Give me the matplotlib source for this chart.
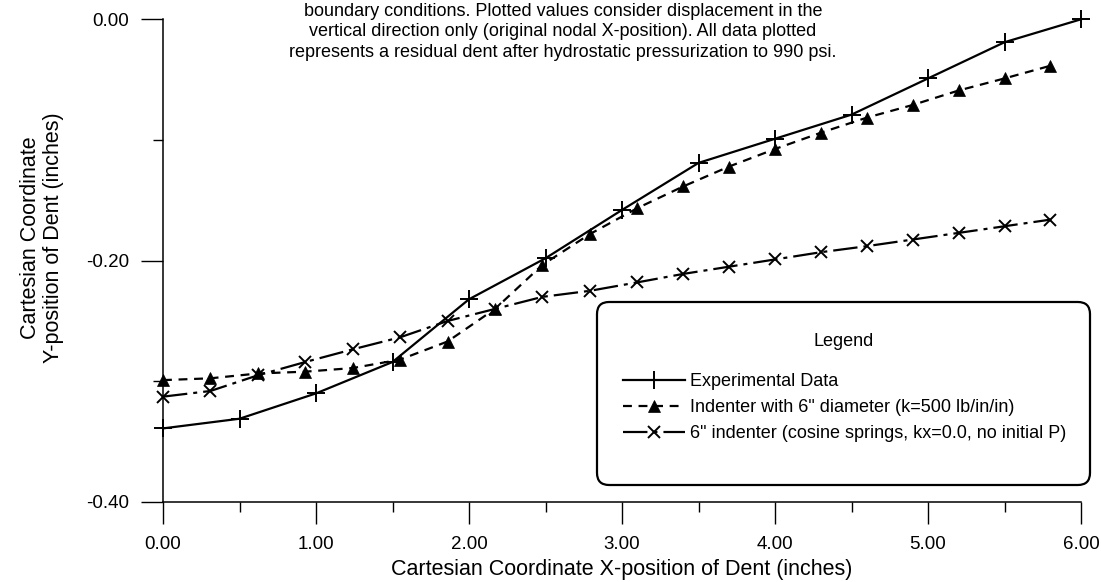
"""
Residual dent profile: experimental data vs. two FE indenter models.
"""

import matplotlib
matplotlib.use("Agg")
import matplotlib.pyplot as plt
from matplotlib.patches import FancyBboxPatch
from matplotlib.lines import Line2D

plt.rcParams["font.family"] = ["Liberation Sans", "DejaVu Sans"]

# Experimental data (solid, + markers)
exp_x = [0.0, 0.5, 1.0, 1.5, 2.0, 2.5, 3.0, 3.5, 4.0, 4.5, 5.0, 5.5, 6.0]
exp_y = [-0.339, -0.331, -0.310, -0.284, -0.232, -0.198, -0.158,
         -0.119, -0.099, -0.079, -0.049, -0.019, 0.0]

# Indenter with 6" diameter (dashed, triangles)
ind_x = [0.0, 0.31, 0.62, 0.93, 1.24, 1.55, 1.86, 2.17, 2.48, 2.79,
         3.10, 3.40, 3.70, 4.00, 4.30, 4.60, 4.90, 5.20, 5.50, 5.80]
ind_y = [-0.299, -0.2975, -0.2935, -0.292, -0.289, -0.282, -0.267, -0.240,
         -0.2035, -0.178, -0.1565, -0.1385, -0.122, -0.1075, -0.094,
         -0.0815, -0.071, -0.059, -0.049, -0.0385]

# 6" indenter, cosine springs (dash-dot, x markers)
cos_x = ind_x
cos_y = [-0.3127, -0.308, -0.295, -0.284, -0.2735, -0.2635, -0.250, -0.240,
         -0.230, -0.225, -0.218, -0.211, -0.205, -0.199, -0.193, -0.188,
         -0.1825, -0.177, -0.1715, -0.166]

labels = [
    "Experimental Data",
    'Indenter with 6" diameter (k=500 lb/in/in)',
    '6" indenter (cosine springs, kx=0.0, no initial P)',
]

note = ("boundary conditions. Plotted values consider displacement in the\n"
        "vertical direction only (original nodal X-position). All data plotted\n"
        "represents a residual dent after hydrostatic pressurization to 990 psi.")

W, H = 1101, 582
fig = plt.figure(figsize=(W / 100, H / 100), dpi=100)
ax = fig.add_axes([163 / W, 1 - 502 / H, (1081 - 163) / W, (502 - 19.3) / H])

styles = [
    dict(ls="-", marker="+", ms=13, mew=1.4),
    dict(ls=(0, (4, 3)), marker="^", ms=8, mew=0.5),
    dict(ls=(0, (11, 2.7, 1.8, 2.7)), marker="x", ms=8, mew=1.4),
]
series = [(exp_x, exp_y), (ind_x, ind_y), (cos_x, cos_y)]
for (xs, ys), st in zip(series, styles):
    ax.plot(xs, ys, color="k", lw=1.6, clip_on=False, **st)

ax.set_xlim(0, 6)
ax.set_ylim(-0.4, 0)
ax.set_xticks(range(7))
ax.set_xticklabels([f"{v:.2f}" for v in range(7)])
ax.set_xticks([0.5, 1.5, 2.5, 3.5, 4.5, 5.5], minor=True)
ax.set_yticks([-0.4, -0.2, 0.0])
ax.set_yticklabels(["-0.40", "-0.20", "0.00"])
ax.set_yticks([-0.3, -0.1], minor=True)
ax.tick_params(which="major", direction="out", length=15.5, width=1,
               labelsize=13.5, pad=9)
ax.tick_params(which="minor", direction="out", length=7, width=1)
for s in ["top", "right"]:
    ax.spines[s].set_visible(False)
for s in ["left", "bottom"]:
    ax.spines[s].set_linewidth(1.1)

fig.text(622 / W, 1 - 569 / H, "Cartesian Coordinate X-position of Dent (inches)",
         ha="center", va="center", fontsize=15.5)
fig.text(42 / W, 1 - 238 / H, "Cartesian Coordinate\nY-position of Dent (inches)",
         ha="center", va="center", rotation=90, fontsize=15.5, linespacing=1.1)
fig.text(563 / W, 1 - 32 / H, note, ha="center", va="center", fontsize=13,
         linespacing=1.3)

# legend box
box = FancyBboxPatch((597 / W, 1 - 485 / H), (1090 - 597) / W, (485 - 302) / H,
                     boxstyle="round,pad=0,rounding_size=0.011",
                     mutation_aspect=W / H, transform=fig.transFigure,
                     fc="white", ec="k", lw=1.6, zorder=5)
fig.add_artist(box)
fig.text(843.5 / W, 1 - 342 / H, "Legend", ha="center", va="center",
         fontsize=13, zorder=6)

handles = [Line2D([], [], color="k", lw=1.6, **st) for st in styles]
leg = fig.legend(handles, labels, loc="upper left",
                 bbox_to_anchor=(623 / W, 1 - 373 / H),
                 bbox_transform=fig.transFigure, frameon=False, fontsize=13,
                 numpoints=1, handlelength=3.43, handletextpad=0.28,
                 labelspacing=0.51, borderpad=0, borderaxespad=0)
leg.set_zorder(7)

fig.savefig("out.png", dpi=100)
